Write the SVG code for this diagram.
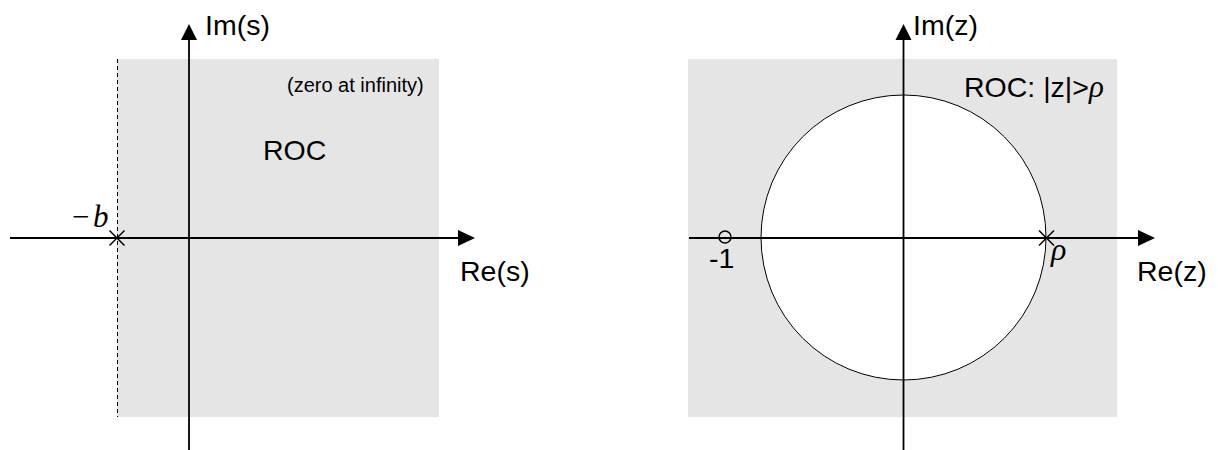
<svg xmlns="http://www.w3.org/2000/svg" width="1218" height="450" viewBox="0 0 1218 450">
<defs>
<style>
.roc{fill:#e5e5e5;stroke:none}
.axis{stroke:#000;stroke-width:1.8;fill:none}
.thin{stroke:#000;stroke-width:1;fill:none}
.mark{stroke:#000;stroke-width:1.5;fill:none}
.lbl{font-family:"Liberation Sans",Arial,sans-serif;font-size:28.5px;fill:#000}
.small{font-family:"Liberation Sans",Arial,sans-serif;font-size:20px;fill:#000}
.math{font-family:"Liberation Serif","Times New Roman",serif;font-style:italic;fill:#000}
.head{fill:#000;stroke:none}
</style>
</defs>
<g id="s-plane">
<rect class="roc" x="117" y="59" width="322" height="358"/>
<line class="thin" x1="117.5" y1="59" x2="117.5" y2="417" stroke-dasharray="4,3"/>
<g id="s-axes">
<line class="axis" x1="10" y1="238" x2="460" y2="238"/>
<polygon class="head" points="475,238 458,230 458,246"/>
<line class="axis" x1="189" y1="450" x2="189" y2="38"/>
<polygon class="head" points="189,24 181,40 197,40"/>
</g>
<g id="s-pole">
<line class="mark" x1="109.5" y1="230.5" x2="124.5" y2="245.5"/>
<line class="mark" x1="109.5" y1="245.5" x2="124.5" y2="230.5"/>
</g>
<text class="lbl" x="205" y="35">Im(s)</text>
<text class="lbl" x="460" y="281">Re(s)</text>
<text class="lbl" x="263" y="160">ROC</text>
<text class="small" x="287" y="92">(zero at infinity)</text>
<text x="72" y="227" fill="#000" font-family="'Liberation Serif','Times New Roman',serif"><tspan font-size="31">−</tspan><tspan class="math" font-size="31" x="93">b</tspan></text>
</g>
<g id="z-plane">
<rect class="roc" x="688" y="59" width="429" height="358"/>
<circle cx="903.5" cy="237.5" r="142.5" fill="#fff" stroke="#000" stroke-width="1"/>
<g id="z-axes">
<line class="axis" x1="689" y1="238" x2="1140" y2="238"/>
<polygon class="head" points="1155,238 1138,230 1138,246"/>
<line class="axis" x1="903.5" y1="450" x2="903.5" y2="38"/>
<polygon class="head" points="903.5,24 895.5,40 911.5,40"/>
</g>
<g id="z-zero">
<circle class="mark" cx="725" cy="237" r="6"/>
</g>
<g id="z-pole">
<line class="mark" x1="1039" y1="230.5" x2="1054" y2="245.5"/>
<line class="mark" x1="1039" y1="245.5" x2="1054" y2="230.5"/>
</g>
<text class="lbl" x="913" y="35">Im(z)</text>
<text class="lbl" x="1137" y="281">Re(z)</text>
<text class="lbl" x="709" y="268">-1</text>
<text class="math" font-size="32" x="1051" y="260">ρ</text>
<text class="lbl" x="964" y="97">ROC: |z|&gt;<tspan class="math" font-size="31">ρ</tspan></text>
</g>
</svg>
